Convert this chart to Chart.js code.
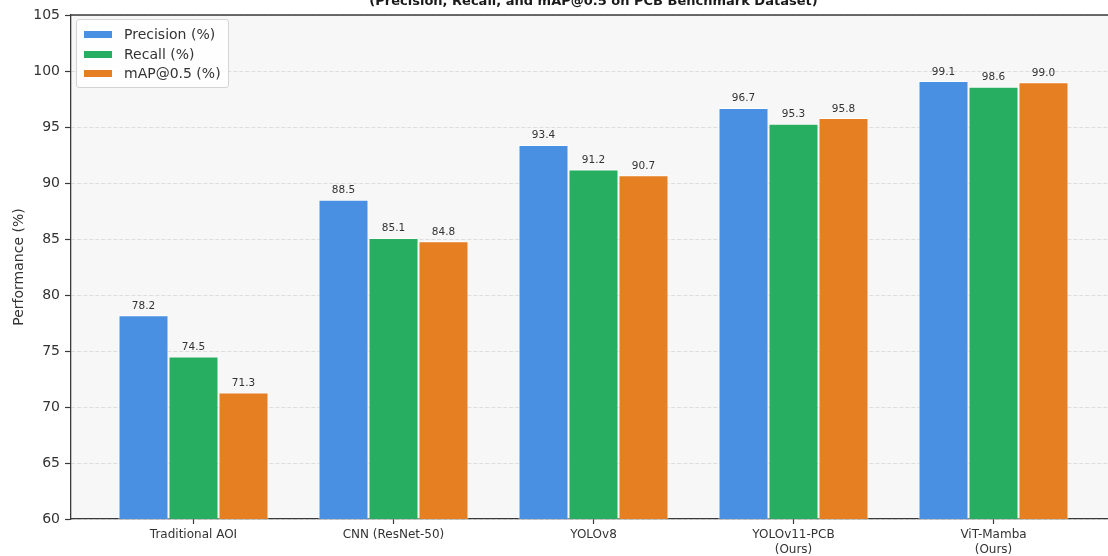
<!DOCTYPE html>
<html>
<head>
<meta charset="utf-8">
<script src="https://cdn.jsdelivr.net/npm/chart.js@4/dist/chart.umd.min.js"></script>
<style>
  html, body { margin: 0; padding: 0; background: #ffffff; overflow: hidden; width: 1108px; height: 556px; }
  #wrap { position: absolute; left: 0; top: -10px; width: 1116px; height: 566px; }
  #legend {
    position: absolute; left: 76px; top: 19px; width: 151px; height: 67px;
    background: rgba(255,255,255,0.85); border: 1px solid #d4d4d4; border-radius: 3px;
    font-family: "DejaVu Sans", sans-serif; font-size: 14px; color: #333;
  }
  #legend .row { position: absolute; left: 0; height: 20px; width: 100%; }
  #legend .sw { position: absolute; left: 7px; top: 7px; width: 28px; height: 7px; }
  #legend .tx { position: absolute; left: 47px; top: 1px; white-space: nowrap; line-height: 18px; }
</style>
</head>
<body>
<div id="wrap"><canvas id="c" width="1116" height="566"></canvas></div>
<div id="legend"></div>
<script>
// Detection methods compared on the PCB benchmark
const categories = ['Traditional AOI', 'CNN (ResNet-50)', 'YOLOv8', ['YOLOv11-PCB', '(Ours)'], ['ViT-Mamba', '(Ours)']];
const precision = [78.2, 88.5, 93.4, 96.7, 99.1];
const recall    = [74.5, 85.1, 91.2, 95.3, 98.6];
const map50     = [71.3, 84.8, 90.7, 95.8, 99.0];
const seriesNames = ['Precision (%)', 'Recall (%)', 'mAP@0.5 (%)'];
const seriesColors = ['#4A90E2', '#27AE60', '#E67E22'];
const yTicks = [60, 65, 70, 75, 80, 85, 90, 95, 100, 105];
const titleText = '(Precision, Recall, and mAP@0.5 on PCB Benchmark Dataset)';

const FONT = '"DejaVu Sans", sans-serif';
const seriesValues = [precision, recall, map50];

// Plot background and top spine
const framePlugin = {
  id: 'frame',
  beforeDraw(chart) {
    const a = chart.chartArea, ctx = chart.ctx;
    ctx.save();
    ctx.fillStyle = '#f7f7f7';
    ctx.fillRect(a.left, a.top, a.right - a.left, a.bottom - a.top);
    ctx.restore();
  },
  afterDatasetsDraw(chart) {
    const a = chart.chartArea, ctx = chart.ctx;
    ctx.save();
    ctx.strokeStyle = '#3a3a3a';
    ctx.lineWidth = 1.3;
    ctx.beginPath();
    ctx.moveTo(a.left, a.top);
    ctx.lineTo(a.right, a.top);
    ctx.stroke();
    ctx.restore();
  }
};

// Value text above each bar
const valueLabels = {
  id: 'valueLabels',
  afterDatasetsDraw(chart) {
    const ctx = chart.ctx;
    ctx.save();
    ctx.font = '10.5px ' + FONT;
    ctx.fillStyle = '#333';
    ctx.textAlign = 'center';
    ctx.textBaseline = 'bottom';
    chart.data.datasets.forEach((ds, di) => {
      chart.getDatasetMeta(di).data.forEach((bar, i) => {
        ctx.fillText(ds.data[i].y.toFixed(1), bar.x, bar.y - 4);
      });
    });
    ctx.restore();
  }
};

const chart = new Chart(document.getElementById('c'), {
  type: 'bar',
  data: {
    datasets: seriesNames.map((name, k) => ({
      label: name,
      data: seriesValues[k].map((v, i) => ({ x: i, y: v })),
      backgroundColor: seriesColors[k],
      borderColor: 'rgba(255,255,255,0.9)',
      borderWidth: 1,
      borderSkipped: 'bottom',
      categoryPercentage: 0.75,
      barPercentage: 1.0
    }))
  },
  options: {
    responsive: false,
    animation: false,
    devicePixelRatio: 1,
    layout: { padding: 0 },
    plugins: {
      legend: { display: false },
      tooltip: { enabled: false },
      title: {
        display: true,
        text: titleText,
        fullSize: false,
        color: '#1a1a1a',
        font: { family: FONT, size: 13, weight: 'bold' },
        padding: { top: 4, bottom: 5.4 }
      }
    },
    scales: {
      x: {
        type: 'linear',
        offset: false,
        min: -0.6125,
        max: 4.6125,
        afterBuildTicks(scale) {
          scale.ticks = categories.map((_, i) => ({ value: i }));
        },
        afterFit(scale) { scale.height = 37; },
        ticks: {
          autoSkip: false,
          maxRotation: 0,
          padding: 3,
          color: '#333',
          font: { family: FONT, size: 12, lineHeight: 1.25 },
          callback: (v) => categories[v]
        },
        grid: {
          offset: false,
          drawOnChartArea: false,
          drawTicks: true,
          tickLength: 5,
          tickColor: '#3a3a3a',
          tickWidth: 1.2
        },
        border: { display: true, color: '#3a3a3a', width: 1.3 }
      },
      y: {
        min: 60,
        max: 105,
        afterBuildTicks(scale) {
          scale.ticks = yTicks.map(v => ({ value: v }));
        },
        afterFit(scale) { scale.width = 71; },
        ticks: {
          padding: 5,
          color: '#333',
          font: { family: FONT, size: 14 }
        },
        grid: {
          color: 'rgba(0,0,0,0.13)',
          lineWidth: 0.8,
          drawTicks: true,
          tickLength: 6,
          tickColor: '#3a3a3a',
          tickWidth: 1.2,
          tickBorderDash: []
        },
        border: { display: true, color: '#3a3a3a', width: 1.3, dash: [4, 2] },
        title: {
          display: true,
          text: 'Performance (%)',
          color: '#333',
          font: { family: FONT, size: 14 },
          padding: { top: 11, bottom: 0 }
        }
      }
    }
  },
  plugins: [framePlugin, valueLabels]
});

// Legend box in the upper left of the plot
const legendEl = document.getElementById('legend');
seriesNames.forEach((name, k) => {
  const row = document.createElement('div');
  row.className = 'row';
  row.style.top = (4 + k * 19.7) + 'px';
  const sw = document.createElement('div');
  sw.className = 'sw';
  sw.style.background = seriesColors[k];
  const tx = document.createElement('div');
  tx.className = 'tx';
  tx.textContent = name;
  row.appendChild(sw);
  row.appendChild(tx);
  legendEl.appendChild(row);
});
</script>
</body>
</html>
